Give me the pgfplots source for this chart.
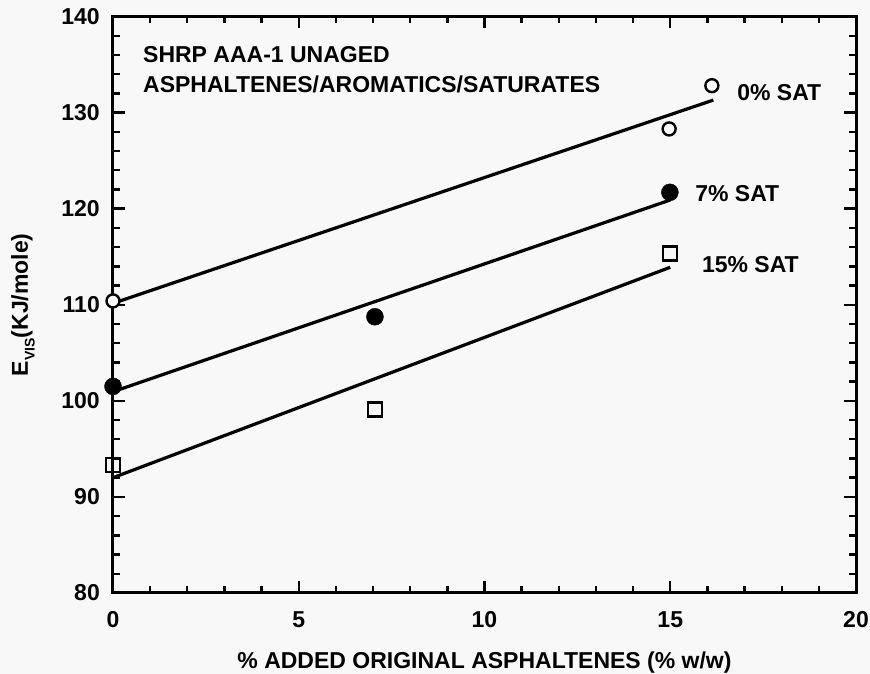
\documentclass[border=0pt]{standalone}
\usepackage{pgfplots}
\pgfplotsset{compat=1.18}
\usepackage{fontspec}
\setmainfont{Liberation Sans}
\definecolor{paper}{RGB}{248,248,248}

\begin{document}
\fontsize{23}{27}\selectfont\bfseries
\begin{tikzpicture}
\fill[paper] (-113pt,-81pt) rectangle (757pt,593pt);
\useasboundingbox (-113pt,-81pt) rectangle (757pt,593pt);
\begin{axis}[
  at={(0,0)}, anchor=south west,
  scale only axis, width=743pt, height=576.5pt,
  xmin=0, xmax=20, ymin=80, ymax=140,
  xtick={0,5,...,20}, ytick={80,90,...,140},
  minor xtick={1,2,3,4,6,7,8,9,11,12,13,14,16,17,18,19},
  minor ytick={82,84,86,88,92,94,96,98,102,104,106,108,112,114,116,118,122,124,126,128,132,134,136,138},
  major tick length=12pt, minor tick length=7pt,
  tick style={black, line width=2.4pt},
  axis line style={line width=3pt},
  /pgf/number format/assume math mode=true,
  ticklabel style={font=\fontsize{23}{27}\selectfont\bfseries, inner sep=0pt},
  xticklabel style={anchor=center, yshift=-27pt},
  yticklabel style={anchor=east, xshift=-13pt},
  xlabel={\% ADDED ORIGINAL ASPHALTENES (\% w/w)},
  ylabel={E\raisebox{-0.3em}{\fontsize{14}{14}\selectfont VIS}(KJ/mole)},
  label style={font=\fontsize{23}{27}\selectfont\bfseries, inner sep=0pt},
  xlabel style={at={(axis description cs:0.5,-0.1206)}, anchor=center},
  ylabel style={at={(axis description cs:-0.1211,0.5)}, anchor=center, rotate=0},
  clip=false,
]
% fitted lines
\addplot[black, line width=3.2pt] coordinates {(0,110.15) (16.16,131.3)};
\addplot[black, line width=3.2pt] coordinates {(0,100.95) (15,120.9)};
\addplot[black, line width=3.2pt] coordinates {(0,92.0) (15,113.9)};
% 0% saturates
\addplot[only marks, mark=*, mark size=6.5pt, mark options={fill=white, draw=black, line width=2.4pt}]
  coordinates {(0,110.4) (14.97,128.3) (16.12,132.8)};
% 7% saturates
\addplot[only marks, mark=*, mark size=8.5pt, mark options={fill=black, draw=black}]
  coordinates {(0,101.5) (7.05,108.75) (14.99,121.7)};
% 15% saturates
\addplot[only marks, mark=square, mark size=7pt, mark options={draw=black, line width=2.4pt}]
  coordinates {(0,93.3) (7.05,99.1) (15,115.35)};
% annotations
\node[anchor=base west, inner sep=0pt] at (axis cs:0.807,135.26) {SHRP AAA-1 UNAGED};
\node[anchor=base west, inner sep=0pt] at (axis cs:0.807,132.04) {ASPHALTENES/AROMATICS/SATURATES};
\node[anchor=west, inner sep=0pt] at (axis cs:16.8,132.1) {0\% SAT};
\node[anchor=west, inner sep=0pt] at (axis cs:15.67,121.6) {7\% SAT};
\node[anchor=west, inner sep=0pt] at (axis cs:15.85,114.2) {15\% SAT};
\end{axis}
\end{tikzpicture}
\end{document}
